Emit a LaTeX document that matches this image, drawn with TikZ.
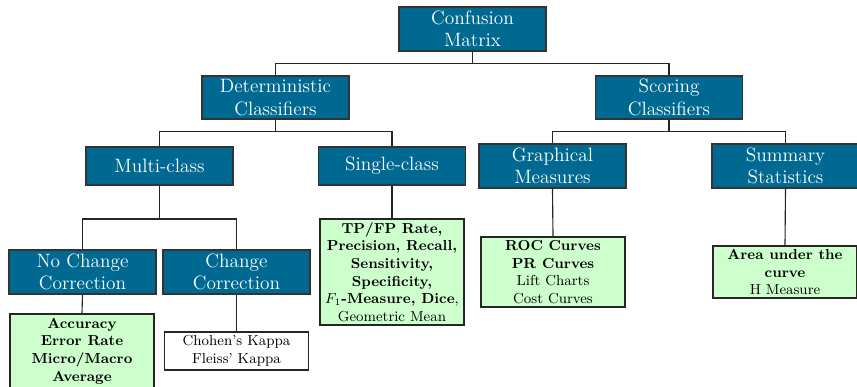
\documentclass[tikz,border=0pt]{standalone}
\definecolor{boxblue}{RGB}{0,105,145}
\definecolor{leafgreen}{RGB}{204,255,204}
\tikzset{
  cat/.style={draw=black!80, line width=0.8pt, fill=boxblue, text=white, font=\large,
    align=center, minimum width=91.3pt, inner sep=1pt},
  leaf/.style={draw=black!85, line width=0.8pt, fill=leafgreen, font=\small,
    align=center, minimum width=89.44pt, inner sep=1pt},
  plainleaf/.style={leaf, fill=white},
  conn/.style={draw=black!85, line width=0.7pt}
}
\begin{document}
\begin{tikzpicture}[x=0.6211pt,y=-0.6211pt]
\useasboundingbox (0,0) rectangle (857,386);
% category boxes
\node[cat, minimum height=27.33pt] (CM) at (472.5,29) {Confusion\\Matrix};
\node[cat, minimum height=26.71pt] (DC) at (275.5,97.5) {Deterministic\\Classifiers};
\node[cat, minimum height=26.71pt] (SC) at (669,97.5) {Scoring\\Classifiers};
\node[cat, minimum height=23.60pt] (MC) at (159.5,166) {Multi-class};
\node[cat, minimum height=23.60pt] (SG) at (392,166) {Single-class};
\node[cat, minimum height=27.33pt] (GM) at (552.5,166) {Graphical\\Measures};
\node[cat, minimum height=27.33pt] (SS) at (785.5,166) {Summary\\Statistics};
\node[cat, minimum height=27.33pt] (NC) at (82.5,272) {No Change\\Correction};
\node[cat, minimum height=27.33pt] (CC) at (236.5,272) {Change\\Correction};
% leaves
\node[leaf, minimum height=65.84pt] (SGL) at (392,272)
  {\textbf{TP/FP Rate,}\\\textbf{Precision, Recall,}\\\textbf{Sensitivity,}\\\textbf{Specificity,}\\$F_1$\textbf{-Measure, Dice},\\Geometric Mean};
\node[leaf, minimum height=43.48pt] (GML) at (553,272)
  {\textbf{ROC Curves}\\\textbf{PR Curves}\\Lift Charts\\Cost Curves};
\node[leaf, minimum height=32.30pt] (SSL) at (785,272)
  {\textbf{Area under the}\\\textbf{curve}\\H Measure};
\node[leaf, minimum height=45.96pt] (NCL) at (82,351)
  {\textbf{Accuracy}\\\textbf{Error Rate}\\\textbf{Micro/Macro}\\\textbf{Average}};
\node[plainleaf, minimum height=23.60pt] (CCL) at (236.5,351)
  {Chohen's Kappa\\Fleiss' Kappa};
% bus levels
\coordinate (busA) at (0,63.5);
\coordinate (busB) at (0,131.5);
\coordinate (busC) at (0,219);
% connectors
\draw[conn] (CM.south) -- (CM.south |- busA) -| (DC.north);
\draw[conn] (CM.south |- busA) -| (SC.north);
\draw[conn] (DC.south) -- (DC.south |- busB) -| (MC.north);
\draw[conn] (DC.south |- busB) -| (SG.north);
\draw[conn] (SC.south) -- (SC.south |- busB) -| (GM.north);
\draw[conn] (SC.south |- busB) -| (SS.north);
\draw[conn] (MC.south) -- (MC.south |- busC) -| (NC.north);
\draw[conn] (MC.south |- busC) -| (CC.north);
\draw[conn] (SG.south) -- (SGL.north);
\draw[conn] (GM.south) -- (GML.north);
\draw[conn] (SS.south) -- (SSL.north);
\draw[conn] (NC.south) -- (NCL.north);
\draw[conn] (CC.south) -- (CCL.north);
\end{tikzpicture}
\end{document}
